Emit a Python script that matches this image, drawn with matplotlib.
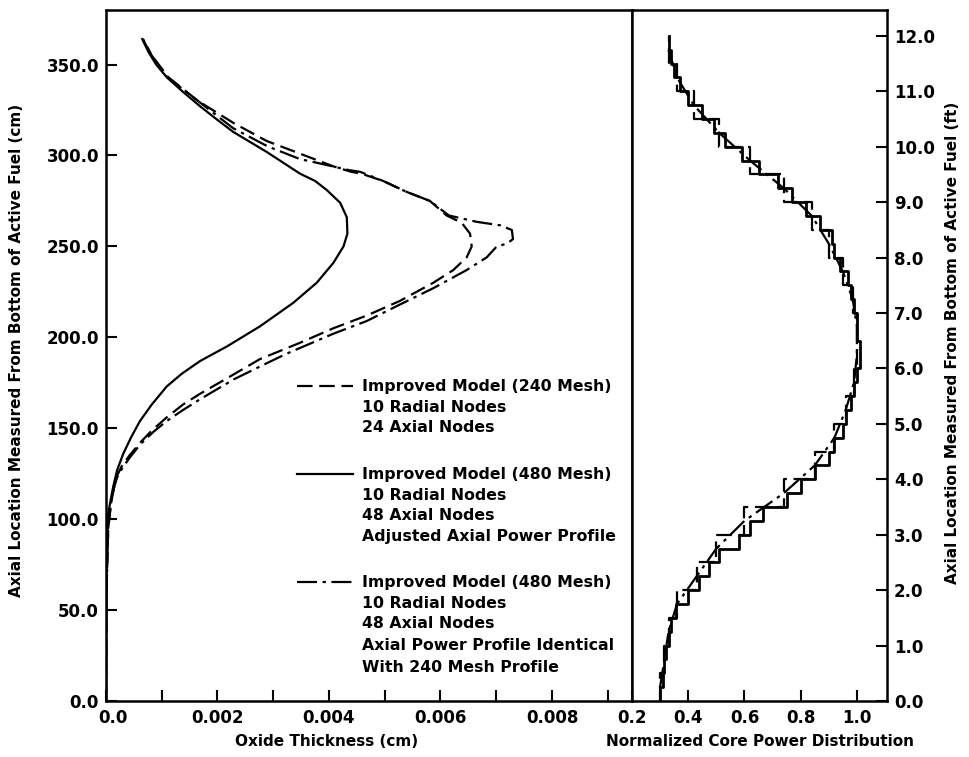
import numpy as np
import matplotlib
matplotlib.use("Agg")
from matplotlib import pyplot as plt
from matplotlib.transforms import ScaledTranslation

plt.rcParams["font.family"] = ["DejaVu Sans"]
plt.rcParams["font.weight"] = "bold"

# ---- left panel: oxide thickness (cm) vs axial height (cm)
mesh240_h = [0, 60, 95, 106, 112, 118, 124, 129, 135, 142, 149, 156, 163, 169, 178, 188, 197,
             205, 212, 220, 230, 237, 244, 250, 257, 263, 267, 275, 280, 286, 290, 291, 294,
             301, 308, 318, 330, 343, 355, 365]
mesh240_t = [0.0, 0.00001, 0.00004, 0.00008, 0.00011, 0.00015, 0.00020, 0.00028, 0.00042,
             0.00061, 0.00083, 0.00109, 0.00138, 0.00169, 0.00220, 0.00276, 0.00348, 0.00408,
             0.00468, 0.00527, 0.00587, 0.00623, 0.00647, 0.00656, 0.00653, 0.00638, 0.00611,
             0.00581, 0.00539, 0.00497, 0.00458, 0.00440, 0.00408, 0.00348, 0.00288, 0.00228,
             0.00165, 0.00112, 0.00082, 0.00064]

mesh480_adj_h = [0, 50, 77, 90, 96, 103, 110, 118, 127, 136, 145, 154, 163, 173, 180, 187, 195,
                 206, 219, 230, 241, 250, 257, 266, 274, 281, 286, 290, 296, 302, 313, 320, 327,
                 335, 343, 350, 357, 364]
mesh480_adj_t = [0.0, 0.0, 0.00001, 0.00002, 0.00003, 0.00004, 0.00008, 0.00013, 0.00020,
                 0.00031, 0.00045, 0.00061, 0.00082, 0.00109, 0.00136, 0.00169, 0.00217, 0.00276,
                 0.00336, 0.00378, 0.00408, 0.00426, 0.00433, 0.00432, 0.00420, 0.00396, 0.00375,
                 0.00348, 0.00318, 0.00288, 0.00228, 0.00198, 0.00169, 0.00138, 0.00109, 0.00090,
                 0.00076, 0.00065]

mesh480_same_h = [0, 60, 95, 106, 111, 117, 123, 128, 134, 141, 148, 154, 160, 166, 177, 186,
                  191, 202, 209, 218, 227, 237, 244, 250, 251.5, 254, 259, 261.6, 263.5, 267, 275,
                  280, 286, 291, 292, 296, 298, 305, 315, 330, 343, 355, 366]
mesh480_same_t = [0.0, 0.00001, 0.00004, 0.00008, 0.00010, 0.00014, 0.00020, 0.00029, 0.00043,
                  0.00061, 0.00085, 0.00109, 0.00138, 0.00169, 0.00230, 0.00290, 0.00324, 0.00408,
                  0.00468, 0.00527, 0.00587, 0.00647, 0.00683, 0.00701, 0.00719, 0.00730, 0.00728,
                  0.00707, 0.00665, 0.00615, 0.00581, 0.00539, 0.00497, 0.00456, 0.00435, 0.00378,
                  0.00348, 0.00290, 0.00228, 0.00165, 0.00110, 0.00082, 0.00063]

# ---- right panel: normalized axial power, node values (bottom to top)
power48 = [0.30, 0.31, 0.315, 0.32, 0.33, 0.34, 0.357, 0.398, 0.44, 0.475, 0.511, 0.582,
           0.62, 0.665, 0.75, 0.80, 0.85, 0.90, 0.92, 0.95, 0.96, 0.98, 0.99, 1.0,
           1.01, 1.01, 1.0, 1.0, 0.99, 0.98, 0.97, 0.94, 0.92, 0.91, 0.87, 0.82,
           0.77, 0.72, 0.65, 0.59, 0.53, 0.49, 0.45, 0.40, 0.37, 0.35, 0.34, 0.33]
power24 = [0.30, 0.315, 0.33, 0.36, 0.43, 0.50, 0.60, 0.74, 0.85, 0.92, 0.96, 0.99,
           1.0, 1.0, 0.985, 0.95, 0.90, 0.84, 0.74, 0.62, 0.51, 0.42, 0.36, 0.33]
core_len_ft = 12.0

left_xticks = [0.0, 0.002, 0.004, 0.006, 0.008]
left_xlabels = ["0.0", "0.002", "0.004", "0.006", "0.008"]
right_xticks = [0.2, 0.4, 0.6, 0.8, 1.0]
right_xlabels = ["0.2", "0.4", "0.6", "0.8", "1.0"]

legend_entries = [
    ["Improved Model (240 Mesh)", "10 Radial Nodes", "24 Axial Nodes"],
    ["Improved Model (480 Mesh)", "10 Radial Nodes", "48 Axial Nodes",
     "Adjusted Axial Power Profile"],
    ["Improved Model (480 Mesh)", "10 Radial Nodes", "48 Axial Nodes",
     "Axial Power Profile Identical", "With 240 Mesh Profile"],
]

dash_style = (7, 3)
dashdot_style = (9, 2.5, 1.5, 2.5)
lw = 1.6

W, H = 970, 757
fig = plt.figure(figsize=(9.7, 7.57), dpi=100)
ax1 = fig.add_axes([106 / W, 56 / H, 526 / W, 691 / H])
ax2 = fig.add_axes([632 / W, 56 / H, 255 / W, 691 / H])

ymax_cm = 380.0
ax1.plot(mesh240_t, mesh240_h, color="black", lw=lw, dashes=dash_style)
ax1.plot(mesh480_adj_t, mesh480_adj_h, color="black", lw=lw)
ax1.plot(mesh480_same_t, mesh480_same_h, color="black", lw=lw, dashes=dashdot_style)
ax1.set_xlim(0, 0.009435)
ax1.set_ylim(0, ymax_cm)

# staircases for the axial power profile
e48 = np.linspace(0, core_len_ft, len(power48) + 1)
e24 = np.linspace(0, core_len_ft, len(power24) + 1)
ax2.plot(np.repeat(power48, 2), np.repeat(e48, 2)[1:-1], color="black", lw=2)
ax2.plot(np.repeat(power24, 2), np.repeat(e24, 2)[1:-1], color="black", lw=lw, dashes=dash_style)
c24 = (e24[:-1] + e24[1:]) / 2
ax2.plot(power24, c24, color="black", lw=lw, dashes=dashdot_style)
ax2.set_xlim(0.2, 1.107)
ax2.set_ylim(0, ymax_cm / 30.48)

tick_font = dict(fontsize=12, fontweight="bold")
for ax in (ax1, ax2):
    for s in ax.spines.values():
        s.set_linewidth(1.8)
    ax.tick_params(which="both", direction="in", length=8, width=1.5)

ax1.set_xticks(np.arange(0, 0.0095, 0.001), minor=True)
ax1.set_xticks(left_xticks)
ax1.set_xticklabels(left_xlabels, **tick_font)
ax1.set_yticks(np.arange(0, 351, 50))
ax1.set_yticklabels([f"{v:.1f}" for v in np.arange(0, 351, 50)], **tick_font)
ax1.tick_params(axis="x", pad=6)
ax1.tick_params(axis="y", pad=5)
first = ax1.get_xticklabels()[0]
first.set_transform(first.get_transform() + ScaledTranslation(0.07, 0, fig.dpi_scale_trans))

ax2.set_xticks(right_xticks)
ax2.set_xticklabels(right_xlabels, **tick_font)
ax2.yaxis.tick_right()
ax2.set_yticks(np.arange(0, 13, 1))
ax2.set_yticklabels([f"{v:.1f}" for v in np.arange(0, 13, 1)], **tick_font)
ax2.tick_params(axis="x", pad=6)
ax2.tick_params(axis="y", pad=5)

# legend drawn by hand inside the left panel
row_px = [[386, 407, 428], [474, 495, 516, 537], [582, 603, 624, 646, 667]]
styles = [dict(dashes=dash_style), dict(), dict(dashes=dashdot_style)]
for lines, rows, st in zip(legend_entries, row_px, styles):
    yy = (701 - rows[0]) / 691
    ax1.plot([0.363, 0.469], [yy, yy], transform=ax1.transAxes, color="black", lw=lw, **st)
    for txt, r in zip(lines, rows):
        ax1.text(0.487, (701 - r) / 691, txt, transform=ax1.transAxes, fontsize=11.3,
                 fontweight="bold", va="center", ha="left")

lab = dict(fontsize=11, fontweight="bold")
fig.text(327 / W, 1 - 742 / H, "Oxide Thickness (cm)", ha="center", va="center", **lab)
fig.text(760 / W, 1 - 742 / H, "Normalized Core Power Distribution", ha="center", va="center", **lab)
fig.text(17 / W, 1 - 350 / H, "Axial Location Measured From Bottom of Active Fuel (cm)",
         rotation=90, ha="center", va="center", **lab)
fig.text(953 / W, 1 - 343 / H, "Axial Location Measured From Bottom of Active Fuel (ft)",
         rotation=90, ha="center", va="center", **lab)

fig.savefig("out.png", dpi=100)
